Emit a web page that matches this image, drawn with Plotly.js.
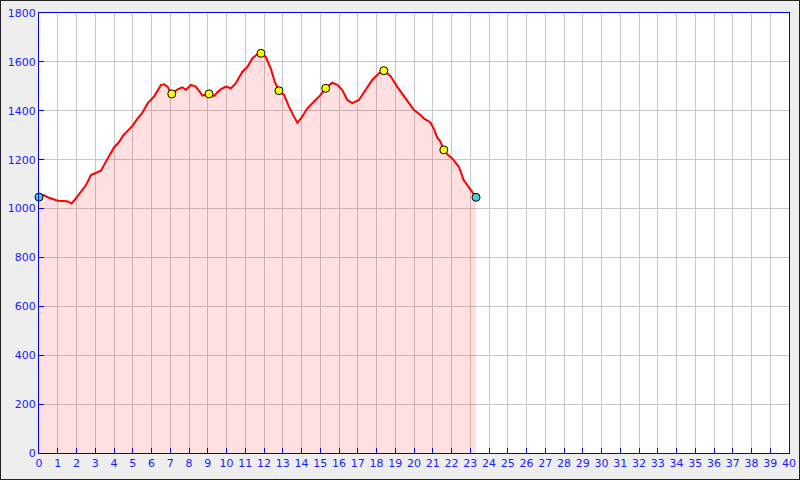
<!DOCTYPE html>
<html><head><meta charset="utf-8">
<script src="https://cdn.plot.ly/plotly-3.0.1.min.js"></script>
<style>html,body{margin:0;padding:0;background:#eeeeee;}#wrap{position:relative;width:800px;height:480px;}#chart{width:800px;height:480px;}#frame{position:absolute;left:0;top:0;width:800px;height:480px;box-sizing:border-box;border:1px solid #222;pointer-events:none;}</style>
</head><body><div id="wrap"><div id="chart"></div><div id="frame"></div></div>
<script>
const dist = [0, 0.25, 0.5, 1.0, 1.5, 1.74, 2.0, 2.24, 2.5, 2.77, 3.0, 3.3, 3.57, 3.8, 4.0, 4.25, 4.5, 4.75, 5.0, 5.26, 5.5, 5.79, 5.97, 6.15, 6.32, 6.5, 6.68, 6.85, 7.08, 7.25, 7.39, 7.65, 7.83, 8.1, 8.36, 8.55, 8.72, 9.07, 9.34, 9.5, 9.69, 9.96, 10.23, 10.49, 10.85, 11.12, 11.38, 11.65, 11.84, 12.09, 12.36, 12.57, 12.8, 13.07, 13.33, 13.6, 13.78, 14.04, 14.31, 14.66, 15.02, 15.29, 15.64, 15.91, 16.18, 16.44, 16.71, 17.06, 17.42, 17.77, 18.13, 18.39, 18.75, 19.1, 19.55, 19.9, 20.0, 20.35, 20.52, 20.88, 21.09, 21.24, 21.4, 21.59, 21.8, 22.03, 22.39, 22.65, 23.01, 23.31];
const elev = [1047, 1055, 1045, 1032, 1030, 1021, 1045, 1069, 1095, 1137, 1145, 1155, 1192, 1220, 1250, 1270, 1300, 1320, 1340, 1369, 1390, 1430, 1445, 1460, 1482, 1505, 1508, 1499, 1469, 1480, 1488, 1496, 1485, 1506, 1499, 1480, 1462, 1469, 1460, 1475, 1488, 1499, 1492, 1512, 1560, 1580, 1615, 1632, 1635, 1621, 1574, 1519, 1482, 1465, 1417, 1376, 1351, 1376, 1410, 1437, 1465, 1492, 1515, 1506, 1485, 1444, 1431, 1444, 1485, 1526, 1553, 1564, 1542, 1499, 1451, 1417, 1403, 1383, 1369, 1352, 1321, 1290, 1275, 1240, 1220, 1206, 1171, 1117, 1076, 1046];
const wpDist = [0, 7.08, 9.07, 11.84, 12.8, 15.29, 18.39, 21.59, 23.31];
const wpElev = [1047, 1469, 1469, 1635, 1482, 1492, 1564, 1240, 1046];
const xTicks = Array.from({length: 41}, (_, i) => i);

const wpColors = wpDist.map((d, i) => (i === 0 || i === wpDist.length - 1) ? '#40d0e0' : '#ffff00');

const traces = [
  {x: dist, y: elev, type: 'scatter', mode: 'lines', fill: 'tozeroy',
   fillcolor: 'rgba(255,0,0,0.12)', line: {color: '#ff0000', width: 2}, hoverinfo: 'skip'},
  {x: wpDist, y: wpElev, type: 'scatter', mode: 'markers', cliponaxis: false,
   marker: {size: 8, color: wpColors, line: {color: '#000000', width: 1}}}
];
const axisFont = {family: 'DejaVu Sans', size: 11, color: '#1a1aff'};
const layout = {
  width: 800, height: 480,
  margin: {l: 39, r: 11, t: 13, b: 27, pad: 0},
  paper_bgcolor: '#eeeeee', plot_bgcolor: '#ffffff',
  showlegend: false,
  xaxis: {range: [0, 40], tickmode: 'array', tickvals: xTicks, ticktext: xTicks.map(String),
    showgrid: true, gridcolor: '#c8c8c8', gridwidth: 1, zeroline: false,
    showline: true, linecolor: '#0000ee', linewidth: 1, mirror: true,
    ticks: 'inside', ticklen: 5, tickcolor: '#0000ee', tickfont: axisFont, fixedrange: true},
  yaxis: {range: [0, 1800], dtick: 200, tick0: 0,
    showgrid: true, gridcolor: '#c8c8c8', gridwidth: 1, zeroline: false,
    showline: true, linecolor: '#0000ee', linewidth: 1, mirror: true,
    ticks: 'inside', ticklen: 5, tickcolor: '#0000ee', tickfont: axisFont, fixedrange: true}
};
Plotly.newPlot('chart', traces, layout, {displayModeBar: false, staticPlot: true});
</script></body></html>
